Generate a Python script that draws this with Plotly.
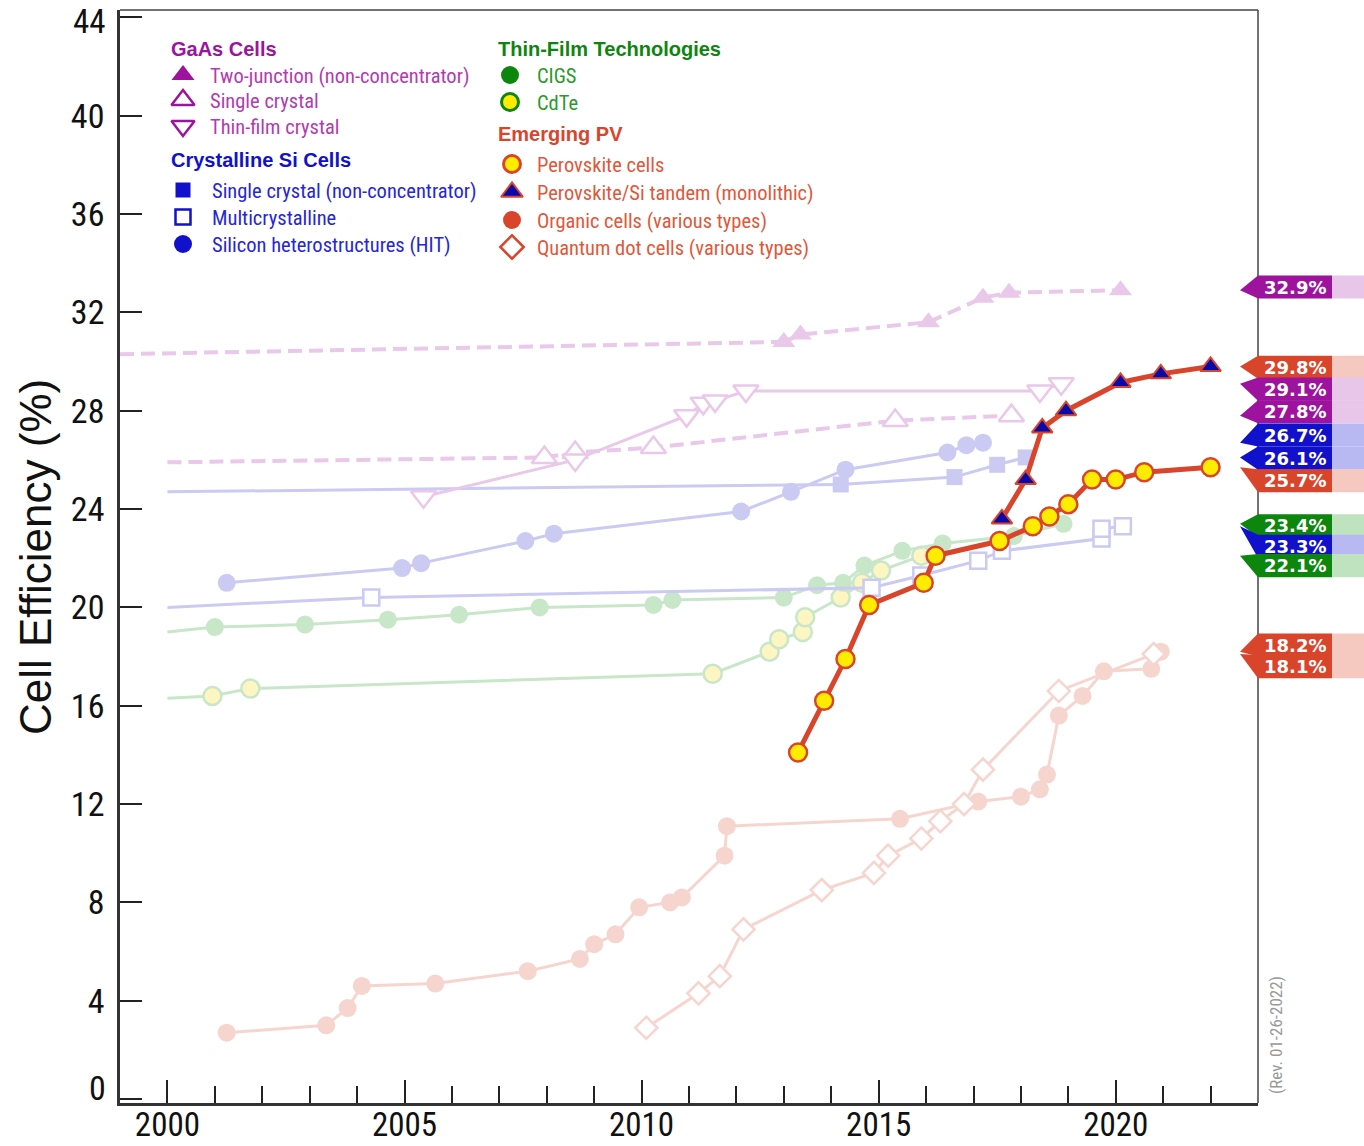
import plotly.graph_objects as go

# ---------------- data ----------------
year_ticks = [2000, 2005, 2010, 2015, 2020]
eff_ticks = [0, 4, 8, 12, 16, 20, 24, 28, 32, 36, 40, 44]

# GaAs cells
gaas2j_x = [2013.0, 2013.35, 2016.05, 2017.2, 2017.75, 2020.1]
gaas2j_y = [30.8, 31.1, 31.6, 32.6, 32.8, 32.9]
gaas2j_lead = [1999.0, 30.3]
gaas1_x = [2007.95, 2008.6, 2010.25, 2015.35, 2017.8]
gaas1_y = [26.1, 26.3, 26.5, 27.6, 27.8]
gaas1_lead = [2000.0, 25.9]
gaastf_x = [2005.4, 2008.6, 2010.95, 2011.3, 2011.55, 2012.2, 2018.4, 2018.85]
gaastf_y = [24.5, 26.0, 27.8, 28.3, 28.4, 28.8, 28.8, 29.1]

# Crystalline Si cells
si1_x = [2014.2, 2016.6, 2017.5, 2018.1]
si1_y = [25.0, 25.3, 25.8, 26.1]
si1_lead = [2000.0, 24.7]
mc_x = [2004.3, 2014.85, 2015.9, 2017.1, 2017.6, 2019.7, 2019.7, 2020.15]
mc_y = [20.4, 20.8, 21.3, 21.9, 22.3, 22.8, 23.2, 23.3]
mc_lead = [2000.0, 20.0]
hit_x = [2001.25, 2004.95, 2005.35, 2007.55, 2008.15, 2012.1, 2013.15, 2014.3, 2016.45, 2016.85, 2017.2]
hit_y = [21.0, 21.6, 21.8, 22.7, 23.0, 23.9, 24.7, 25.6, 26.3, 26.6, 26.7]

# Thin-film technologies
cigs_x = [2001.0, 2002.9, 2004.65, 2006.15, 2007.85, 2010.25, 2010.65, 2013.0, 2013.7, 2014.25,
          2014.7, 2015.5, 2016.35, 2017.85, 2018.9]
cigs_y = [19.2, 19.3, 19.5, 19.7, 20.0, 20.1, 20.3, 20.4, 20.9, 21.0, 21.7, 22.3, 22.6, 22.9, 23.4]
cigs_lead = [2000.0, 19.0]
cdte_x = [2000.95, 2001.75, 2011.5, 2012.7, 2012.9, 2013.4, 2013.45, 2014.2, 2014.65, 2015.05, 2015.9]
cdte_y = [16.4, 16.7, 17.3, 18.2, 18.7, 19.0, 19.6, 20.4, 21.0, 21.5, 22.1]
cdte_lead = [2000.0, 16.3]

# Emerging PV
pvk_x = [2013.3, 2013.85, 2014.3, 2014.8, 2015.95, 2016.2, 2017.55, 2018.25, 2018.6, 2019.0,
         2019.5, 2020.0, 2020.6, 2022.0]
pvk_y = [14.1, 16.2, 17.9, 20.1, 21.0, 22.1, 22.7, 23.3, 23.7, 24.2, 25.2, 25.2, 25.5, 25.7]
tan_x = [2017.6, 2018.1, 2018.45, 2018.95, 2020.1, 2020.95, 2022.0]
tan_y = [23.6, 25.2, 27.3, 28.0, 29.15, 29.5, 29.8]
org_x = [2001.25, 2003.35, 2003.8, 2004.1, 2005.65, 2007.6, 2008.7, 2009.0, 2009.45, 2009.95,
         2010.6, 2010.85, 2011.75, 2011.8, 2015.45, 2017.1, 2018.0, 2018.4, 2018.55, 2018.8,
         2019.3, 2019.75, 2020.75, 2020.95]
org_y = [2.7, 3.0, 3.7, 4.6, 4.7, 5.2, 5.7, 6.3, 6.7, 7.8, 8.0, 8.2, 9.9, 11.1, 11.4, 12.1,
         12.3, 12.6, 13.2, 15.6, 16.4, 17.4, 17.5, 18.2]
qd_x = [2010.1, 2011.2, 2011.65, 2012.15, 2013.8, 2014.9, 2015.2, 2015.9, 2016.3, 2016.8,
        2017.2, 2018.8, 2020.8]
qd_y = [2.9, 4.3, 5.0, 6.9, 8.5, 9.2, 9.9, 10.6, 11.3, 12.0, 13.4, 16.6, 18.1]

# ---------------- styles ----------------
GA_F, SI_F, TF_F, CD_FILL, EM_F = '#e9c8e9', '#cacaf3', '#c8e6c8', '#fdf5c2', '#f6d5cf'
RED, YEL, NAVY = '#d9452b', '#ffec00', '#0a0aa8'
PUR, BLU, GRN = '#9e139e', '#1111cc', '#0c860c'
PUR_L, BLU_L, GRN_L, RED_L = '#e8c6ea', '#b8b8f2', '#bfe3bf', '#f5c9bf'
NARROW = 'Roboto Condensed, DejaVu Sans Condensed, sans-serif'
SANS = 'Liberation Sans, Arial, sans-serif'

PL, PR, PT, PB = 120, 1258, 10, 1103   # plot area in pixels
def px(v):
    return (v - PL) / (PR - PL)
def py(v):
    return (PB - v) / (PB - PT)

fig = go.Figure()

def add_series(x, y, lead, color, symbol, size, fill, edge, edgew, lw, dash='solid'):
    if lead is not None:
        fig.add_trace(go.Scatter(x=[lead[0], x[0]], y=[lead[1], y[0]], mode='lines',
                                 line=dict(color=color, width=lw, dash=dash), hoverinfo='skip'))
    fig.add_trace(go.Scatter(x=x, y=y, mode='lines+markers',
                             line=dict(color=color, width=lw, dash=dash),
                             marker=dict(symbol=symbol, size=size, color=fill,
                                         line=dict(color=edge, width=edgew))))

DASH = '14px,7px'
add_series(org_x, org_y, None, EM_F, 'circle', 18, EM_F, EM_F, 0, 3)
add_series(qd_x, qd_y, None, EM_F, 'diamond', 17, 'white', EM_F, 2.5, 3)
add_series(cdte_x, cdte_y, cdte_lead, TF_F, 'circle', 18, CD_FILL, TF_F, 2.5, 3)
add_series(cigs_x, cigs_y, cigs_lead, TF_F, 'circle', 18, TF_F, TF_F, 0, 3)
add_series(hit_x, hit_y, None, SI_F, 'circle', 18, SI_F, SI_F, 0, 3)
add_series(mc_x, mc_y, mc_lead, SI_F, 'square', 16, 'white', SI_F, 2.5, 3)
add_series(si1_x, si1_y, si1_lead, SI_F, 'square', 16, SI_F, SI_F, 0, 3)
add_series(gaas1_x, gaas1_y, gaas1_lead, GA_F, 'triangle-up', 22, 'white', GA_F, 2.5, 4, DASH)
add_series(gaastf_x, gaastf_y, None, GA_F, 'triangle-down', 22, 'white', GA_F, 2.5, 3)
add_series(gaas2j_x, gaas2j_y, gaas2j_lead, GA_F, 'triangle-up', 20, GA_F, GA_F, 0, 4, DASH)
add_series(pvk_x, pvk_y, None, RED, 'circle', 18, YEL, RED, 2.5, 5)
add_series(tan_x, tan_y, None, RED, 'triangle-up', 18, NAVY, RED, 2, 5)

# ---------------- legend (custom, in pixel overlay axes) ----------------
legend_items = [
    # (marker x, y, symbol, fill, edge, edgew, size, text, text x, color)
    (183, 75, 'triangle-up', PUR, PUR, 0, 20, 'Two-junction (non-concentrator)', 208, '#b03cb0'),
    (183, 100, 'triangle-up', 'white', PUR, 2.5, 20, 'Single crystal', 208, '#b03cb0'),
    (183, 126, 'triangle-down', 'white', PUR, 2.5, 20, 'Thin-film crystal', 208, '#b03cb0'),
    (183, 190, 'square', BLU, BLU, 0, 15, 'Single crystal (non-concentrator)', 210, '#2626d8'),
    (183, 217, 'square', 'white', BLU, 2.5, 15, 'Multicrystalline', 210, '#2626d8'),
    (183, 244, 'circle', BLU, BLU, 0, 18, 'Silicon heterostructures (HIT)', 210, '#2626d8'),
    (510, 75, 'circle', GRN, GRN, 0, 18, 'CIGS', 535, '#2a9a2a'),
    (510, 102, 'circle', YEL, GRN, 3, 17, 'CdTe', 535, '#2a9a2a'),
    (512, 164, 'circle', YEL, RED, 3, 17, 'Perovskite cells', 535, '#e0583a'),
    (512, 192, 'triangle-up', NAVY, RED, 2, 19, 'Perovskite/Si tandem (monolithic)', 535, '#e0583a'),
    (512, 220, 'circle', RED, RED, 0, 18, 'Organic cells (various types)', 535, '#e0583a'),
    (512, 247, 'diamond', 'white', RED, 2.5, 18, 'Quantum dot cells (various types)', 535, '#e0583a'),
]
legend_heads = [
    ('GaAs Cells', 169, 49, PUR),
    ('Crystalline Si Cells', 169, 160, BLU),
    ('Thin-Film Technologies', 496, 49, GRN),
    ('Emerging PV', 496, 134, RED),
]

annotations = []
for (mx, my, sym, fill, edge, ew, sz, txt, tx, col) in legend_items:
    fig.add_trace(go.Scatter(x=[mx], y=[my], xaxis='x2', yaxis='y2', mode='markers',
                             cliponaxis=False,
                             marker=dict(symbol=sym, size=sz, color=fill, line=dict(color=edge, width=ew))))
    annotations.append(dict(text=txt, x=px(tx), y=py(my + 1), xref='paper', yref='paper',
                            xanchor='left', yanchor='middle', showarrow=False,
                            font=dict(family=NARROW, size=20.5, color=col)))
for (txt, hx, hy, col) in legend_heads:
    annotations.append(dict(text='<b>' + txt + '</b>', x=px(hx), y=py(hy), xref='paper', yref='paper',
                            xanchor='left', yanchor='middle', showarrow=False,
                            font=dict(family=SANS, size=20, color=col)))

# ---------------- right-hand record flags ----------------
flags = [
    # (value, box centre, dark colour, light colour, symbol, fill, edge, edgew)
    (gaas2j_y[-1], 33.03, PUR, PUR_L, 'triangle-up', PUR, PUR, 0),
    (tan_y[-1], 29.77, RED, RED_L, 'triangle-up', NAVY, RED, 2),
    (gaastf_y[-1], 28.88, PUR, PUR_L, 'triangle-down', 'white', PUR, 2.5),
    (gaas1_y[-1], 27.96, PUR, PUR_L, 'triangle-up', 'white', PUR, 2.5),
    (hit_y[-1], 27.01, BLU, BLU_L, 'circle', BLU, BLU, 0),
    (si1_y[-1], 26.07, BLU, BLU_L, 'square', BLU, BLU, 0),
    (pvk_y[-1], 25.15, RED, RED_L, 'circle', YEL, RED, 2.5),
    (cigs_y[-1], 23.32, GRN, GRN_L, 'circle', GRN, GRN, 0),
    (mc_y[-1], 22.48, BLU, BLU_L, 'square', 'white', BLU, 2.5),
    (cdte_y[-1], 21.70, GRN, GRN_L, 'circle', YEL, GRN, 2.5),
    (org_y[-1], 18.47, RED, RED_L, 'circle', RED, RED, 0),
    (qd_y[-1], 17.59, RED, RED_L, 'diamond', 'white', RED, 2.5),
]
HALF = 0.47
shapes = [
    dict(type='line', xref='paper', yref='paper', x0=0, x1=1, y0=1, y1=1,
         line=dict(color='#444', width=1.5)),
    dict(type='line', xref='paper', yref='paper', x0=1, x1=1, y0=0, y1=1,
         line=dict(color='#444', width=1.5)),
]
for (v, c, dark, light, sym, fill, edge, ew) in flags:
    top, bot = c + HALF, c - HALF
    shapes.append(dict(type='rect', xref='paper', yref='y', x0=px(1332), x1=px(1366), y0=bot, y1=top,
                       fillcolor=light, line=dict(width=0), layer='above'))
    path = (f'M {px(1240)},{v} L {px(1258)},{top} L {px(1332)},{top} '
            f'L {px(1332)},{bot} L {px(1258)},{bot} Z')
    shapes.append(dict(type='path', xref='paper', yref='y', path=path, fillcolor=dark,
                       line=dict(width=0), layer='above'))
    annotations.append(dict(text=f'<b>{v:.1f}%</b>', x=px(1295), y=c, xref='paper', yref='y',
                            xanchor='center', yanchor='middle', showarrow=False,
                            font=dict(family='DejaVu Sans, sans-serif', size=18, color='white')))
    fig.add_trace(go.Scatter(x=[1347], y=[c], xaxis='x2', yaxis='y', mode='markers', cliponaxis=False,
                             marker=dict(symbol=sym, size=15, color=fill, line=dict(color=edge, width=ew))))

# axis title, end labels (placed by hand as in the original) and revision note
annotations.append(dict(text='Cell Efficiency (%)', x=px(35), y=py(557), xref='paper', yref='paper',
                        textangle=-90, showarrow=False, xanchor='center', yanchor='middle',
                        font=dict(family=SANS, size=44, color='#111')))
annotations.append(dict(text='0', x=px(108), y=py(1088), xref='paper', yref='paper',
                        showarrow=False, xanchor='right', yanchor='middle',
                        font=dict(family=NARROW, size=34, color='#111')))
annotations.append(dict(text=str(eff_ticks[-1]), x=px(108), y=py(21), xref='paper', yref='paper',
                        showarrow=False, xanchor='right', yanchor='middle',
                        font=dict(family=NARROW, size=33, color='#111')))
annotations.append(dict(text='(Rev. 01-26-2022)', x=px(1276), y=py(1035), xref='paper', yref='paper',
                        textangle=-90, showarrow=False, xanchor='center', yanchor='middle',
                        font=dict(family=NARROW, size=17, color='#999')))

eff_text = ['' if v in (0, eff_ticks[-1]) else str(v) for v in eff_ticks]

fig.update_layout(
    width=1364, height=1146,
    margin=dict(l=PL, r=1364 - PR, t=PT, b=1146 - PB, autoexpand=False),
    plot_bgcolor='white', paper_bgcolor='white', showlegend=False,
    xaxis=dict(range=[1999, 2023], tickvals=year_ticks, ticks='inside', ticklen=23, tickwidth=2,
               tickcolor='#222', showline=True, linecolor='#333', linewidth=2.5, showgrid=False,
               zeroline=False, tickfont=dict(family=NARROW, size=33, color='#111'),
               automargin=False, ticklabeloverflow='allow', ticklabelstandoff=-9,
               minor=dict(dtick=1, tick0=2000, ticks='inside', ticklen=17, tickwidth=2, tickcolor='#222')),
    yaxis=dict(range=[-0.16, 44.3], tickvals=eff_ticks, ticktext=eff_text, ticks='inside', ticklen=22,
               tickwidth=2, tickcolor='#222', showline=True, linecolor='#333', linewidth=2.5,
               showgrid=False, zeroline=False, tickfont=dict(family=NARROW, size=34, color='#111'),
               automargin=False, ticklabeloverflow='allow', ticklabelstandoff=6),
    xaxis2=dict(overlaying='x', range=[PL, PR], visible=False),
    yaxis2=dict(overlaying='y', range=[PB, PT], visible=False),
    annotations=annotations, shapes=shapes,
)

fig.write_html('out.html', config={'displayModeBar': False},
               post_script="document.body.style.margin='0px';")
